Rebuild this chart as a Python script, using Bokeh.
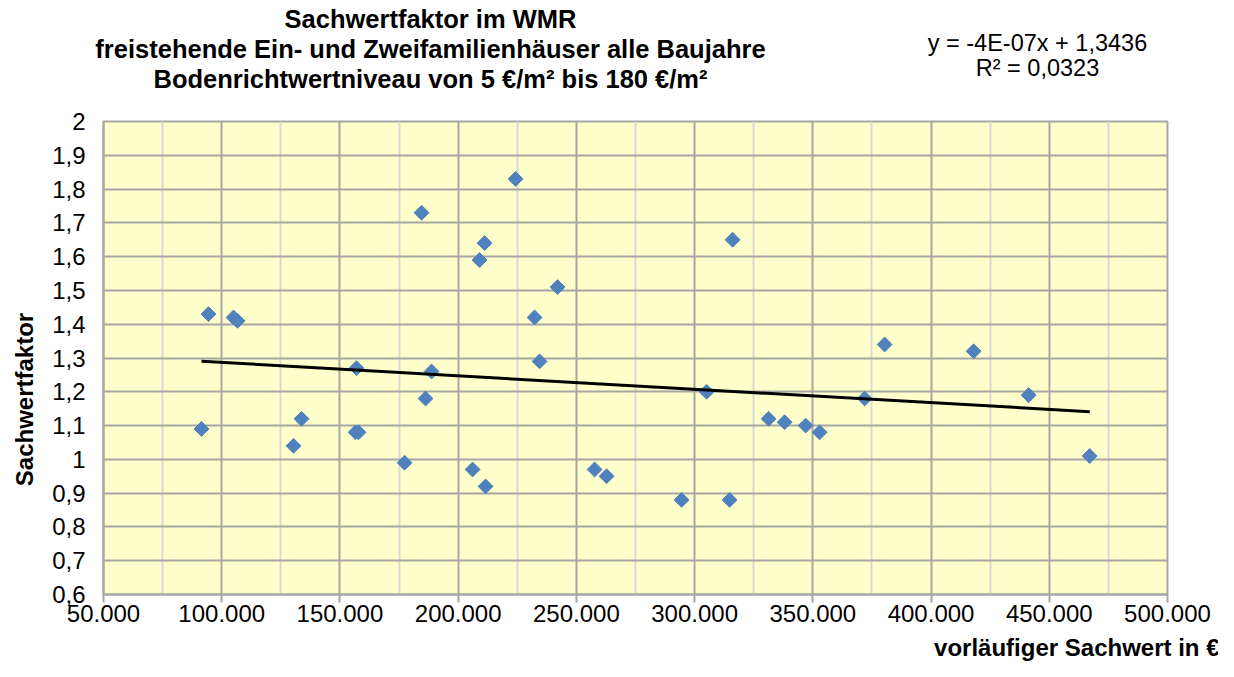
import numpy as np
from bokeh.plotting import figure
from bokeh.layouts import column, row
from bokeh.models import Label, Range1d, FixedTicker
from bokeh.embed import file_html
from bokeh.resources import INLINE

# ---- data ----
sachwert = [91455, 94416, 104992, 106684, 130372, 133756, 157022, 156599, 157868,
            177326, 184518, 186210, 188748, 206091, 209052, 211168, 211591, 224281,
            232318, 234433, 242047, 257699, 262775, 294500, 305076, 314805, 316074,
            331303, 338071, 346954, 352876, 371912, 380372, 418020, 441286, 467090]
faktor = [1.09, 1.43, 1.42, 1.41, 1.04, 1.12, 1.27, 1.08, 1.08,
          0.99, 1.73, 1.18, 1.26, 0.97, 1.59, 1.64, 0.92, 1.83,
          1.42, 1.29, 1.51, 0.97, 0.95, 0.88, 1.20, 0.88, 1.65,
          1.12, 1.11, 1.10, 1.08, 1.18, 1.34, 1.32, 1.19, 1.01]

x_ticks = [50000, 100000, 150000, 200000, 250000, 300000, 350000, 400000, 450000, 500000]
x_tick_labels = ["50.000", "100.000", "150.000", "200.000", "250.000", "300.000",
                 "350.000", "400.000", "450.000", "500.000"]
y_ticks = [0.6, 0.7, 0.8, 0.9, 1.0, 1.1, 1.2, 1.3, 1.4, 1.5, 1.6, 1.7, 1.8, 1.9, 2.0]
y_tick_labels = ["0,6", "0,7", "0,8", "0,9", "1", "1,1", "1,2", "1,3", "1,4", "1,5",
                 "1,6", "1,7", "1,8", "1,9", "2"]

title_lines = ["Sachwertfaktor im WMR",
               "freistehende Ein- und Zweifamilienhäuser alle Baujahre",
               "Bodenrichtwertniveau von 5 €/m² bis 180 €/m²"]
equation_lines = ["y = -4E-07x + 1,3436", "R² = 0,0323"]
x_label = "vorläufiger Sachwert in €"
y_label = "Sachwertfaktor"

FONT = "Liberation Sans"
GRID = "#A6A6A6"
MINOR = "#D9D9D9"
W, H = 1218, 661
FRAME_L, FRAME_R, FRAME_T, FRAME_B = 103, 1167, 121, 594
TOP_H, LEFT_W = 104, 45
CHART_BOTTOM_BORDER = 39
CHART_H = (FRAME_B - TOP_H) + CHART_BOTTOM_BORDER
BOTTOM_H = H - TOP_H - CHART_H


def text_fig(width, height):
    f = figure(width=width, height=height, output_backend="svg", toolbar_location=None,
               x_range=Range1d(0, 1), y_range=Range1d(0, 1),
               x_axis_type=None, y_axis_type=None, min_border=0)
    f.title.visible = False
    f.outline_line_color = None
    f.background_fill_color = "white"
    f.border_fill_color = "white"
    f.grid.visible = False
    return f


def add_label(f, x, y, text, size, bold=False, align="center", angle=0.0):
    f.add_layout(Label(x=x, y=y, x_units="screen", y_units="screen", text=text, angle=angle,
                       text_font=FONT, text_font_size=size,
                       text_font_style="bold" if bold else "normal",
                       text_align=align, text_baseline="middle", text_color="black"))


# ---- title area ----
top = text_fig(W, TOP_H)
for t, cy in zip(title_lines, [18, 48, 78]):
    add_label(top, 430, TOP_H - cy, t, "25.5px", bold=True)
for t, cy in zip(equation_lines, [42, 67]):
    add_label(top, 1037, TOP_H - cy, t, "23.5px")

# ---- y label area (its frame is aligned with the chart frame) ----
left = text_fig(LEFT_W, CHART_H)
add_label(left, 24, FRAME_B - 399, y_label, "24px", bold=True, angle=np.pi / 2)

# ---- x label area ----
bottom = text_fig(W, BOTTOM_H)
add_label(bottom, 1219, BOTTOM_H / 2, x_label, "24px", bold=True, align="right")

# ---- main chart ----
p = figure(width=W - LEFT_W, height=CHART_H, output_backend="svg", toolbar_location=None,
           x_range=Range1d(x_ticks[0], x_ticks[-1]), y_range=Range1d(y_ticks[0], y_ticks[-1]),
           min_border_left=FRAME_L - LEFT_W, min_border_right=W - FRAME_R,
           min_border_top=FRAME_T - TOP_H, min_border_bottom=CHART_BOTTOM_BORDER)
p.title.visible = False
p.background_fill_color = "#FFFFCC"
p.border_fill_color = "white"
p.outline_line_color = GRID
p.outline_line_width = 2

minor_x = [(a + b) / 2 for a, b in zip(x_ticks[:-1], x_ticks[1:])]
p.xaxis.ticker = FixedTicker(ticks=x_ticks, minor_ticks=minor_x)
p.yaxis.ticker = FixedTicker(ticks=y_ticks)
p.xaxis.major_label_overrides = dict(zip(x_ticks, x_tick_labels))
p.yaxis.major_label_overrides = dict(zip(y_ticks, y_tick_labels))

for ax in (p.xaxis[0], p.yaxis[0]):
    ax.axis_line_color = GRID
    ax.axis_line_width = 2
    ax.major_tick_line_color = GRID
    ax.major_tick_line_width = 2
    ax.minor_tick_line_color = None
    ax.major_label_text_font = FONT
    ax.major_label_text_font_size = "24px"
    ax.major_label_text_color = "black"
p.xaxis.major_tick_out = 8
p.xaxis.major_tick_in = 0
p.xaxis.major_label_standoff = 2
p.yaxis.major_tick_out = 0
p.yaxis.major_tick_in = 0
p.yaxis.major_label_standoff = 18

p.xgrid.grid_line_color = GRID
p.xgrid.grid_line_width = 2
p.xgrid.minor_grid_line_color = MINOR
p.xgrid.minor_grid_line_width = 2
p.ygrid.grid_line_color = GRID
p.ygrid.grid_line_width = 2

# data points
p.scatter(sachwert, faktor, marker="square", angle=np.pi / 4, size=10.5,
          fill_color="#4F81BD", line_color="#4F81BD")

# linear trend line computed from the data
slope, intercept = np.polyfit(sachwert, faktor, 1)
tx = [min(sachwert), max(sachwert)]
ty = [slope * v + intercept for v in tx]
p.line(tx, ty, line_color="black", line_width=3)

layout = column(top, row(left, p, spacing=0), bottom, spacing=0)
open("out.html", "w").write(file_html(layout, INLINE))
